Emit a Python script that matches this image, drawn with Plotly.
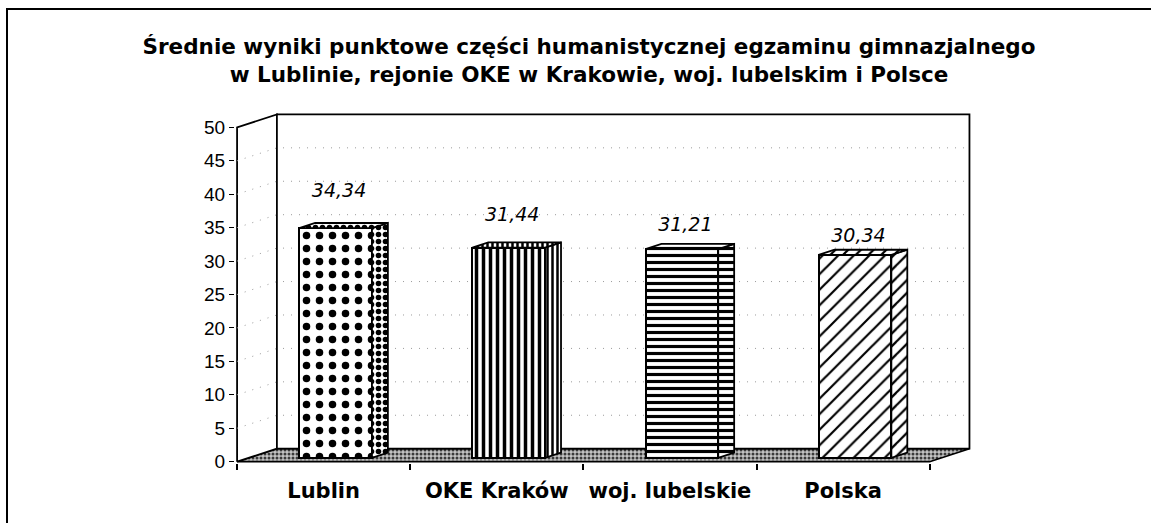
import plotly.graph_objects as go

# Mean scores, humanities part of the lower-secondary exam
categories = ["Lublin", "OKE Kraków", "woj. lubelskie", "Polska"]
scores = [34.34, 31.44, 31.21, 30.34]
score_text = ["34,34", "31,44", "31,21", "30,34"]
y_ticks = [0, 5, 10, 15, 20, 25, 30, 35, 40, 45, 50]

# --- pseudo-3D geometry (data units) ---
Y_MAX = 50
DX, DY = 0.23, 1.94          # depth of the floor / wall offset
F1, F2 = 0.30, 0.70          # front and back depth of the bars
BW = 0.42                    # bar width
LABEL_LIFT = [6.0, 5.2, 4.0, 3.2]

front_patterns = [
    dict(shape=".", size=13, solidity=0.26),
    dict(shape="|", size=7, solidity=0.5),
    dict(shape="-", size=7, solidity=0.45),
    dict(shape="/", size=11, solidity=0.2),
]
side_patterns = [
    dict(shape=".", size=7, solidity=0.5),
    dict(shape="|", size=5, solidity=0.5),
    dict(shape="-", size=7, solidity=0.45),
    dict(shape="/", size=9, solidity=0.25),
]

FONT = "Liberation Sans, Arial, sans-serif"
WIDE = "DejaVu Sans, Verdana, sans-serif"
X_RANGE = [-0.012, 4.262]
Y_RANGE = [-0.2, 52.3]

fig = go.Figure()

# floor (textured)
fig.add_trace(go.Scatter(
    x=[0, 4, 4 + DX, DX, 0], y=[0, 0, DY, DY, 0],
    mode="lines", fill="toself", fillcolor="#bdbdbd",
    fillpattern=dict(shape=".", fgcolor="#3a3a3a", bgcolor="#c4c4c4", fgopacity=1,
                     size=4, solidity=0.45),
    line=dict(color="black", width=1.6), hoverinfo="skip", showlegend=False))

# left wall
fig.add_trace(go.Scatter(
    x=[0, 0, DX, DX, 0], y=[0, Y_MAX, Y_MAX + DY, DY, 0],
    mode="lines", fill="toself", fillcolor="white",
    line=dict(color="black", width=1.8), hoverinfo="skip", showlegend=False))

# back wall
fig.add_trace(go.Scatter(
    x=[DX, 4 + DX, 4 + DX, DX, DX], y=[DY, DY, Y_MAX + DY, Y_MAX + DY, DY],
    mode="lines", fill="toself", fillcolor="white",
    line=dict(color="black", width=1.8), hoverinfo="skip", showlegend=False))

# dotted gridlines on back and left walls
for v in y_ticks[1:-1]:
    fig.add_trace(go.Scatter(
        x=[0, DX, 4 + DX], y=[v, v + DY, v + DY], mode="lines",
        line=dict(color="#9a9a9a", width=1, dash="1px,7px"),
        hoverinfo="skip", showlegend=False))

# bars live on an overlaid pair of axes so they sit above the walls
centres = [i + 0.5 + F1 * DX for i in range(len(categories))]
for i, (c, v) in enumerate(zip(centres, scores)):
    fig.add_trace(go.Bar(
        x=[c], y=[v], base=[F1 * DY], width=[BW], xaxis="x2", yaxis="y2",
        marker=dict(color="white", opacity=1,
                    pattern=dict(fgcolor="black", bgcolor="white", fgopacity=1,
                                 fillmode="replace", **front_patterns[i]),
                    line=dict(color="black", width=2)),
        hoverinfo="skip", showlegend=False))

# bars: side and top faces
ddx, ddy = (F2 - F1) * DX, (F2 - F1) * DY
for i, (c, v) in enumerate(zip(centres, scores)):
    xl, xr = c - BW / 2, c + BW / 2
    b0 = F1 * DY
    top = v + b0
    face_fill = dict(fgcolor="black", bgcolor="white", fgopacity=1, **side_patterns[i])
    fig.add_trace(go.Scatter(
        x=[xr, xr + ddx, xr + ddx, xr, xr], y=[b0, b0 + ddy, top + ddy, top, b0],
        xaxis="x2", yaxis="y2",
        mode="lines", fill="toself", fillcolor="white", fillpattern=face_fill,
        line=dict(color="black", width=1.8), hoverinfo="skip", showlegend=False))
    fig.add_trace(go.Scatter(
        x=[xl, xr, xr + ddx, xl + ddx, xl], y=[top, top, top + ddy, top + ddy, top],
        xaxis="x2", yaxis="y2",
        mode="lines", fill="toself", fillcolor="white", fillpattern=face_fill,
        line=dict(color="black", width=1.8), hoverinfo="skip", showlegend=False))

# value labels
fig.add_trace(go.Scatter(
    x=[c + 0.02 for c in centres],
    y=[v + lift for v, lift in zip(scores, LABEL_LIFT)],
    xaxis="x2", yaxis="y2",
    text=score_text, mode="text", textposition="middle center",
    textfont=dict(family=WIDE, size=19, color="black", style="italic"),
    hoverinfo="skip", showlegend=False, cliponaxis=False))

# outer frame
L, R, T, B = 235, 176, 112, 60
PW, PH = 1151 - L - R, 523 - T - B
fig.add_shape(type="rect", xref="paper", yref="paper",
              x0=(7 - L) / PW, x1=(1165 - L) / PW,
              y0=(523 - B - 540) / PH, y1=(523 - B - 9) / PH,
              line=dict(color="black", width=2), layer="below")

fig.update_layout(
    width=1151, height=523,
    margin=dict(l=L, r=R, t=T, b=B),
    paper_bgcolor="white", plot_bgcolor="white",
    bargap=0, barmode="overlay",
    title=dict(
        text="Średnie wyniki punktowe części humanistycznej egzaminu gimnazjalnego<br>"
             "w Lublinie, rejonie OKE w Krakowie, woj. lubelskim i Polsce",
        x=(589 - L) / PW, xref="paper", xanchor="center",
        y=1 - 54 / 523, yref="container", yanchor="top",
        font=dict(family=WIDE, size=21.5, color="black", weight="bold")),
    xaxis=dict(range=X_RANGE, showgrid=False, zeroline=False,
               showline=False, tickvals=[i + 0.5 for i in range(len(categories))],
               ticktext=categories, ticks="", ticklabelstandoff=13,
               tickfont=dict(family=WIDE, size=21, color="black", weight="bold"),
               minor=dict(tickvals=list(range(len(categories) + 1)), ticks="outside",
                          ticklen=6, tickcolor="black", tickwidth=1.5, showgrid=False),
               automargin=False, fixedrange=True),
    yaxis=dict(range=Y_RANGE, showgrid=False, zeroline=False, showline=False,
               tickvals=y_ticks, ticks="outside", ticklen=5, tickcolor="black",
               tickwidth=1.2, tickfont=dict(family=FONT, size=19, color="black"),
               automargin=False, fixedrange=True),
    xaxis2=dict(range=X_RANGE, overlaying="x", visible=False, fixedrange=True),
    yaxis2=dict(range=Y_RANGE, overlaying="y", visible=False, fixedrange=True),
)

fig.write_html("out.html")
